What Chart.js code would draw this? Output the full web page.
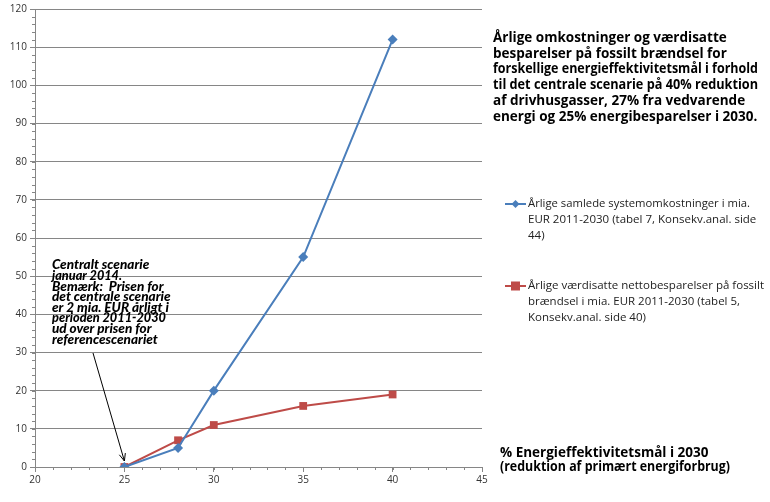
<!DOCTYPE html>
<html><head><meta charset="utf-8">
<script src="https://cdn.jsdelivr.net/npm/chart.js@4/dist/chart.umd.min.js"></script>
<style>html,body{margin:0;padding:0;background:#fff;}#wrap{width:770px;height:502px;}</style>
</head><body><div id="wrap"><canvas id="c" width="770" height="502"></canvas></div>
<script>
const xTargets = [25, 28, 30, 35, 40];
const systemCosts = [0, 5, 20, 55, 112];
const fuelSavings = [0, 7, 11, 16, 19];
const seriesNames = [
  ["Årlige samlede systemomkostninger i mia.", "EUR 2011-2030 (tabel 7, Konsekv.anal. side", "44)"],
  ["Årlige værdisatte nettobesparelser på fossilt", "brændsel i mia. EUR 2011-2030 (tabel 5,", "Konsekv.anal. side 40)"]
];
const titleLines = [
  "Årlige omkostninger og værdisatte",
  "besparelser på fossilt brændsel for",
  "forskellige energieffektivitetsmål i forhold",
  "til det centrale scenarie på 40% reduktion",
  "af drivhusgasser, 27% fra vedvarende",
  "energi og 25% energibesparelser i 2030."
];
const xTitleLines = ["% Energieffektivitetsmål i 2030", "(reduktion af primært energiforbrug)"];
const noteLines = ["Centralt scenarie", "januar 2014.", "Bemærk:  Prisen for", "det centrale scenarie", "er 2 mia. EUR årligt i", "perioden 2011-2030", "ud over prisen for", "referencescenariet"];
const noteTarget = {x: 25, y: 0};

const BLUE = '#4a7ebb', RED = '#be4b48', GRID = '#868686';
const FONT = "'Open Sans', 'DejaVu Sans', sans-serif";

const extras = {
  id: 'extras',
  afterDraw(chart) {
    const ctx = chart.ctx, xs = chart.scales.x, ys = chart.scales.y, ca = chart.chartArea;
    ctx.save();
    // minor ticks
    ctx.strokeStyle = GRID; ctx.lineWidth = 1;
    ctx.beginPath();
    for (let v = 0; v <= 120; v += 2) {
      const y = Math.round(ys.getPixelForValue(v)) + 0.5;
      ctx.moveTo(ca.left - 3, y); ctx.lineTo(ca.left, y);
    }
    for (let v = 20; v <= 45; v += 1) {
      const x = Math.round(xs.getPixelForValue(v)) + 0.5;
      ctx.moveTo(x, ca.bottom); ctx.lineTo(x, ca.bottom + 3);
    }
    ctx.stroke();
    // title
    ctx.fillStyle = '#000';
    ctx.textBaseline = 'middle';
    ctx.font = "bold 13.5px " + FONT;
    titleLines.forEach((t, i) => ctx.fillText(t, 493, 38 + i * 15.8, 265));
    // x axis title
    ctx.font = "bold 13.5px " + FONT;
    xTitleLines.forEach((t, i) => ctx.fillText(t, 500, 453 + i * 14, 230));
    // legend
    ctx.font = "11.5px " + FONT;
    const legY = [204, 286];
    const cols = [BLUE, RED];
    seriesNames.forEach((lines, k) => {
      const y0 = legY[k];
      ctx.strokeStyle = cols[k]; ctx.lineWidth = 2;
      ctx.beginPath(); ctx.moveTo(505, y0); ctx.lineTo(526, y0); ctx.stroke();
      ctx.fillStyle = cols[k];
      if (k === 0) {
        ctx.beginPath(); ctx.moveTo(515.5, y0 - 4); ctx.lineTo(519.5, y0); ctx.lineTo(515.5, y0 + 4); ctx.lineTo(511.5, y0); ctx.closePath(); ctx.fill();
      } else {
        ctx.fillRect(511, y0 - 4.5, 9, 9);
      }
      ctx.fillStyle = '#222';
      const maxW = [[222, 240, 30], [236, 212, 120]][k];
      lines.forEach((t, i) => ctx.fillText(t, 528, y0 + i * 16, maxW[i]));
    });
    // annotation
    ctx.fillStyle = '#000';
    ctx.font = "italic 900 13.5px Lato, " + FONT;
    const nw = [104, 70, 122, 131, 133, 114, 104, 115];
    noteLines.forEach((t, i) => ctx.fillText(t, 52, 265 + i * 10.6, nw[i]));
    // arrow
    const tx = xs.getPixelForValue(noteTarget.x), ty = ys.getPixelForValue(noteTarget.y) - 6;
    const sx = 93, sy = 353;
    ctx.strokeStyle = '#000'; ctx.lineWidth = 1;
    ctx.beginPath(); ctx.moveTo(sx, sy); ctx.lineTo(tx, ty); ctx.stroke();
    const ang = Math.atan2(ty - sy, tx - sx);
    ctx.beginPath();
    ctx.moveTo(tx - 8 * Math.cos(ang - 0.4), ty - 8 * Math.sin(ang - 0.4));
    ctx.lineTo(tx, ty);
    ctx.lineTo(tx - 8 * Math.cos(ang + 0.4), ty - 8 * Math.sin(ang + 0.4));
    ctx.stroke();
    ctx.restore();
  }
};

new Chart(document.getElementById('c'), {
  type: 'scatter',
  data: {
    datasets: [
      { label: seriesNames[0].join(' '), data: xTargets.map((x, i) => ({x, y: systemCosts[i]})), showLine: true,
        borderColor: BLUE, backgroundColor: BLUE, borderWidth: 2, pointStyle: 'rectRot', pointRadius: 5, pointBorderWidth: 0 },
      { label: seriesNames[1].join(' '), data: xTargets.map((x, i) => ({x, y: fuelSavings[i]})), showLine: true,
        borderColor: RED, backgroundColor: RED, borderWidth: 2, pointStyle: 'rect', pointRadius: 5.5, pointBorderWidth: 0 }
    ]
  },
  options: {
    responsive: false, animation: false, devicePixelRatio: 1,
    layout: { padding: { left: 0, right: 288, top: 9, bottom: 0 } },
    plugins: { legend: { display: false }, tooltip: { enabled: false } },
    scales: {
      x: { type: 'linear', min: 20, max: 45,
        afterFit(s) { s.height = 35; },
        ticks: { stepSize: 5, color: '#333', font: { family: FONT, size: 10 }, padding: 2 },
        grid: { drawOnChartArea: false, drawTicks: true, tickLength: 5, color: GRID },
        border: { color: GRID } },
      y: { min: 0, max: 120,
        afterFit(s) { s.width = 35; },
        ticks: { stepSize: 10, color: '#333', font: { family: FONT, size: 10 }, padding: 3 },
        grid: { color: GRID, drawTicks: true, tickLength: 5 },
        border: { color: GRID } }
    }
  },
  plugins: [extras]
});
</script></body></html>
